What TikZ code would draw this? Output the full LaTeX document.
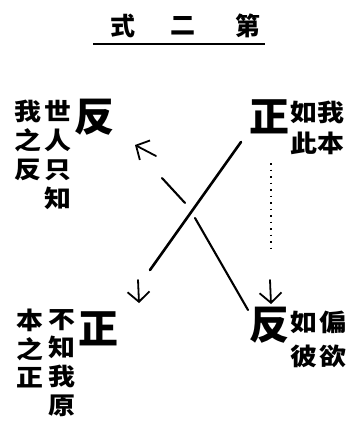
\documentclass[tikz,border=0pt]{standalone}
\usepackage{fontspec}
\newfontfamily\cjk{Noto Sans CJK TC}
\newfontfamily\cjkw{Noto Sans CJK TC}[FakeStretch=1.12]
\usetikzlibrary{arrows.meta}
\begin{document}
\begin{tikzpicture}[x=1pt,y=-1pt,
  titlechar/.style={font=\cjk\bfseries\fontsize{25}{25}\selectfont, inner sep=0pt},
  bigchar/.style={font=\cjk\bfseries\fontsize{40}{40}\selectfont, inner sep=0pt},
  note/.style={font=\cjkw\bfseries\fontsize{24}{#1}\selectfont, inner sep=0pt, align=center},
  note/.default=29,
  mainstroke/.style={line width=2.6pt, line cap=round},
  thinstroke/.style={line width=2.1pt, line cap=round},
  barb/.style={line width=1.8pt, line cap=round, -{Straight Barb[length=10pt,width=22pt]}},
  dotline/.style={line width=1.2pt, dash pattern=on 1.5pt off 5pt}]
\useasboundingbox (0,0) rectangle (354,425);

% title
\node[titlechar] (t1) at (123,26) {式};
\node[titlechar] (t2) at (183,26) {二};
\node[titlechar] (t3) at (248,26) {第};
\coordinate (u1) at (93,44);
\coordinate (u2) at (265,44);
\draw[line width=1.8pt] (u1) -- (u2);

% big characters
\node[bigchar] (fanTL) at (94,117) {反};
\node[bigchar] (zhengTR) at (269,117) {正};
\node[bigchar] (zhengBL) at (98,329) {正};
\node[bigchar] (fanBR) at (269,325) {反};

% annotations
\node[note=29] (tlA) at (28,140) {我\\之\\反};
\node[note=29] (tlB) at (58,154.5) {世\\人\\只\\知};
\node[note=31] (trA) at (304,127.5) {如\\此};
\node[note=31] (trB) at (331,127.5) {我\\本};
\node[note=28.7] (blA) at (30,348.5) {本\\之\\正};
\node[note=28.7] (blB) at (62,363) {不\\知\\我\\原};
\node[note=34] (brA) at (304,339) {如\\彼};
\node[note=34] (brB) at (333,339) {偏\\欲};

% main crossing lines
\coordinate (p1) at (241,142);
\coordinate (p2) at (150,270);
\coordinate (q1) at (248,310);
\coordinate (q2) at (195,218);
\coordinate (q3) at (185,203);
\coordinate (q4) at (162,178);
\coordinate (q5) at (156,156);
\coordinate (q6) at (135,145);
\draw[thinstroke] (q1) -- (q2);
\draw[thinstroke] (q3) -- (q4);
\draw[barb] (q5) -- (q6);
\draw[mainstroke] (p1) -- (p2);

% dotted line and down arrows
\coordinate (f1) at (271,163);
\coordinate (f2) at (271,253);
\draw[dotline] (f1) -- (f2);
\coordinate (d1) at (138,280);
\coordinate (d2) at (139,303);
\draw[barb] (d1) -- (d2);
\coordinate (e1) at (270,280);
\coordinate (e2) at (271,304);
\draw[barb] (e1) -- (e2);
\end{tikzpicture}
\end{document}
